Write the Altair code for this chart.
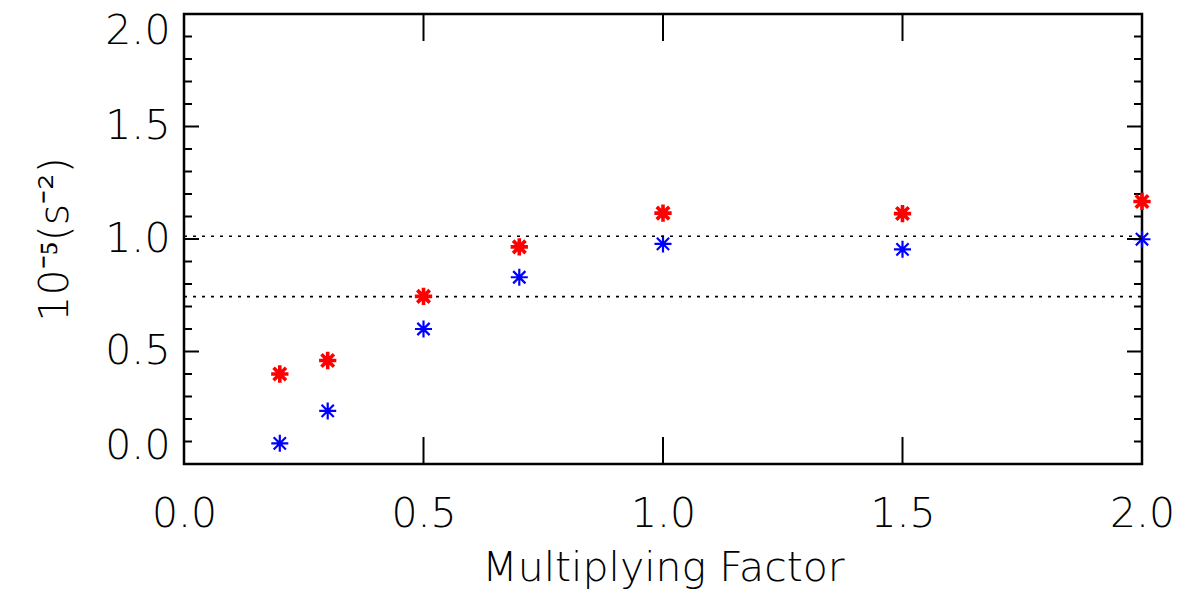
import altair as alt
import pandas as pd

factor = [0.2, 0.3, 0.5, 0.7, 1.0, 1.5, 2.0]
red_vals = [0.40, 0.46, 0.745, 0.965, 1.115, 1.113, 1.167]
blue_vals = [0.092, 0.236, 0.60, 0.83, 0.978, 0.954, 0.999]
ref_lines = [1.012, 0.744]
x_major = [0.5, 1.0, 1.5]
x_labels = [0.0, 0.5, 1.0, 1.5, 2.0]
y_major = [0.0, 0.5, 1.0, 1.5, 2.0]
y_minor = [round(0.1 * i, 1) for i in range(21) if i % 5 != 0]

W, H = 958, 450
FONT = "DejaVu Sans"
FW = 200
FS = 41
ASTER = "M0,-1L0,1M-1,0L1,0M-0.72,-0.72L0.72,0.72M-0.72,0.72L0.72,-0.72"

xs = alt.Scale(domain=[0, 2], nice=False, zero=False)
ys = alt.Scale(domain=[0, 2], nice=False, zero=False)

red_df = pd.DataFrame({"f": factor, "v": red_vals})
blue_df = pd.DataFrame({"f": factor, "v": blue_vals})

base_x = alt.X("f:Q", scale=xs, title="Multiplying Factor",
               axis=alt.Axis(values=x_labels, format=".1f", ticks=False, domain=False,
                             grid=False, labelPadding=30, titlePadding=14, labelFlush=False,
                             labelFontSize=FS, titleFontSize=FS, labelFont=FONT,
                             titleFont=FONT, titleFontWeight=FW, labelFontWeight=FW,
                             labelColor="black", titleColor="black"))
base_y = alt.Y("v:Q", scale=ys, title="10⁻⁵(s⁻²)",
               axis=alt.Axis(values=y_major, format=".1f", ticks=False, domain=False,
                             grid=False, labelPadding=14, titlePadding=28, labelFlush=True,
                             labelFlushOffset=3,
                             labelFontSize=FS, titleFontSize=FS, labelFont=FONT,
                             titleFont=FONT, titleFontWeight=FW, labelFontWeight=FW,
                             labelColor="black", titleColor="black"))

blue = alt.Chart(blue_df).mark_point(shape=ASTER, size=290, filled=False,
                                     color="#0000ff", strokeWidth=2.2, opacity=1).encode(x=base_x, y=base_y)
red = alt.Chart(red_df).mark_point(shape=ASTER, size=300, filled=False,
                                   color="#ff0000", strokeWidth=3.6, opacity=1).encode(x=alt.X("f:Q", scale=xs), y=alt.Y("v:Q", scale=ys))

hl = alt.Chart(pd.DataFrame({"v": ref_lines})).mark_rule(
    color="black", strokeWidth=1.6, strokeDash=[3, 6]).encode(
    y=alt.Y("v:Q", scale=ys), x=alt.value(0), x2=alt.value(W))

ymaj_df = pd.DataFrame({"v": y_major})
ymin_df = pd.DataFrame({"v": y_minor})
xmaj_df = pd.DataFrame({"f": x_major})

def ytick(df, x1, x2):
    return alt.Chart(df).mark_rule(color="black", strokeWidth=2).encode(
        y=alt.Y("v:Q", scale=ys), x=alt.value(x1), x2=alt.value(x2))

def xtick(df, y1, y2):
    return alt.Chart(df).mark_rule(color="black", strokeWidth=2).encode(
        x=alt.X("f:Q", scale=xs), y=alt.value(y1), y2=alt.value(y2))

ticks = [
    ytick(ymaj_df, 0, 15), ytick(ymaj_df, W - 15, W),
    ytick(ymin_df, 0, 8), ytick(ymin_df, W - 8, W),
    xtick(xmaj_df, H - 27, H), xtick(xmaj_df, 0, 27),
]

chart = alt.layer(blue, hl, *ticks, red).properties(
    width=W, height=H,
    autosize=alt.AutoSizeParams(type="none"),
    padding={"left": 184, "top": 14, "right": 58, "bottom": 128},
    background="white",
).configure_view(stroke="black", strokeWidth=2.5)

chart.save("out.html", embed_options={"renderer": "svg", "actions": False})
